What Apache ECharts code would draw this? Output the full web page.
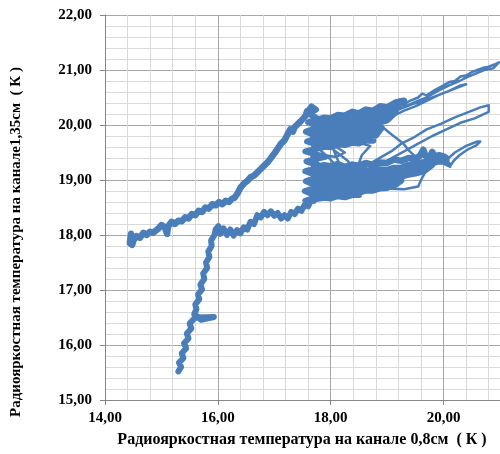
<!DOCTYPE html>
<html>
<head>
<meta charset="utf-8">
<script src="https://cdn.jsdelivr.net/npm/echarts@6/dist/echarts.min.js"></script>
<style>
  html, body { margin: 0; padding: 0; background: #fff; }
  #chart { width: 500px; height: 454px; }
</style>
</head>
<body>
<div id="chart"></div>
<script>
// Brightness temperature trajectory: channel 0.8 cm (x) vs channel 1.35 cm (y), K.
// The track is stored in pieces; the noisy branches and the dense knot are drawn
// with a heavier stroke, the loose loops of the fans with a lighter one.

// steep lower rise, from the bottom point upward (includes the short spur near 16.5)
const riseLow = [
  [15.30,15.52],[15.35,15.60],[15.31,15.68],[15.39,15.76],[15.36,15.85],[15.44,15.94],
  [15.40,16.03],[15.48,16.12],[15.45,16.21],[15.53,16.30],[15.50,16.39],[15.57,16.47],
  [15.62,16.50],[15.93,16.51],[15.70,16.46],[15.62,16.53],
  [15.58,16.56],[15.62,16.65],[15.60,16.74],[15.67,16.83],[15.65,16.92],[15.72,17.01],
  [15.69,17.10],[15.76,17.20],[15.74,17.30],[15.81,17.40],[15.79,17.50],[15.85,17.60],
  [15.83,17.70],[15.89,17.80],[15.88,17.90],[15.94,18.00],[15.96,18.10],[16.01,18.16]
];

// gentle lower branch running right into the knot
const flatLow = [
  [16.04,18.02],[16.10,18.12],[16.16,18.00],[16.22,18.10],[16.28,17.99],[16.34,18.09],
  [16.40,18.03],[16.46,18.14],[16.52,18.10],[16.58,18.24],[16.64,18.20],[16.70,18.36],
  [16.76,18.32],[16.82,18.42],[16.88,18.36],[16.94,18.43],[17.00,18.35],[17.06,18.40],
  [17.12,18.30],[17.18,18.36],[17.24,18.30],[17.30,18.42],[17.36,18.38],[17.42,18.48],
  [17.48,18.44],[17.54,18.55],[17.60,18.52],[17.66,18.65],[17.70,18.62],[17.74,18.78],
  [17.78,18.72],[17.80,18.88]
];

// upright column on the left side of the knot
const pillar = [
  [17.55,18.62],[17.78,18.70],[17.54,18.80],[17.80,18.88],[17.56,18.98],[17.82,19.06],
  [17.55,19.16],[17.86,19.24],[17.57,19.34],[17.90,19.42],[17.55,19.52],[17.88,19.60],
  [17.58,19.70],[17.80,19.78],[17.56,19.88],[17.80,19.96],[17.60,20.05],[17.76,20.12],
  [17.62,20.20],[17.74,20.28],[17.66,20.34],[17.60,20.26]
];

// dense upper part of the knot, opening into the top fan
const massUp = [
  [17.75,20.09],[17.88,20.13],[18.00,20.12],[18.12,20.18],[18.25,20.17],[18.38,20.24],
  [18.50,20.21],[18.62,20.28],[18.75,20.26],[18.88,20.34],[19.00,20.32],[19.15,20.41],[19.30,20.44],
  [19.20,20.36],[19.00,20.27],[18.88,20.25],[18.75,20.18],[18.62,20.18],[18.50,20.13],
  [18.38,20.14],[18.25,20.09],[18.12,20.09],[18.00,20.04],[17.88,20.04],[17.75,20.00],
  [17.75,19.92],[17.88,19.96],[18.00,19.95],[18.12,20.01],[18.25,20.00],[18.38,20.05],
  [18.50,20.03],[18.62,20.09],[18.75,20.08],[18.88,20.14],[19.00,20.18],[19.15,20.24],
  [19.00,20.09],[18.88,20.05],[18.75,19.99],[18.62,19.99],[18.50,19.94],[18.38,19.95],
  [18.25,19.91],[18.12,19.90],[18.00,19.87],[17.88,19.86],[17.75,19.83],
  [17.75,19.75],[17.88,19.79],[18.00,19.78],[18.12,19.83],[18.25,19.82],[18.38,19.87],
  [18.50,19.85],[18.62,19.90],[18.75,19.89],[18.90,19.95],
  [18.80,19.81],[18.65,19.80],[18.50,19.74],[18.38,19.77],[18.25,19.73],[18.12,19.72],
  [18.00,19.69],[17.88,19.69],[17.75,19.66],
  [17.75,19.58],[17.88,19.61],[18.00,19.60],[18.12,19.65],[18.25,19.64],[18.38,19.68],
  [18.50,19.67],[18.62,19.72],[18.75,19.72]
];

// dense lower part of the knot, running into the bottom fan
const massLow = [
  [17.75,19.24],[17.88,19.27],[18.00,19.25],[18.12,19.29],[18.25,19.24],[18.38,19.28],
  [18.50,19.26],[18.62,19.31],[18.75,19.27],[18.88,19.32],[19.00,19.31],[19.12,19.37],
  [19.25,19.35],[19.38,19.40],[19.50,19.39],[19.58,19.44],[19.64,19.55],[19.68,19.44],
  [19.75,19.42],[19.80,19.51],[19.84,19.43],[19.92,19.45],[20.00,19.43],[20.05,19.40],
  [20.05,19.36],[19.90,19.36],[19.75,19.33],[19.62,19.32],[19.50,19.28],[19.38,19.27],
  [19.25,19.22],[19.12,19.22],[19.00,19.18],[18.88,19.19],[18.75,19.16],[18.62,19.18],
  [18.50,19.14],[18.38,19.17],[18.25,19.14],[18.12,19.18],[18.00,19.15],[17.88,19.18],[17.75,19.15],
  [17.75,19.05],[17.88,19.08],[18.00,19.04],[18.12,19.07],[18.25,19.04],[18.38,19.08],
  [18.50,19.05],[18.62,19.09],[18.75,19.06],[18.88,19.11],[19.00,19.09],[19.12,19.14],
  [19.25,19.13],[19.38,19.19],[19.50,19.19],[19.65,19.25],[19.80,19.28],
  [19.65,19.16],[19.50,19.12],[19.38,19.10],[19.25,19.06],[19.12,19.04],[19.00,19.01],
  [18.88,18.99],[18.75,18.96],[18.62,18.98],[18.50,18.94],[18.38,18.96],[18.25,18.92],
  [18.12,18.96],[18.00,18.93],[17.88,18.96],[17.75,18.94],
  [17.75,18.84],[17.88,18.86],[18.00,18.83],[18.12,18.86],[18.25,18.83],[18.38,18.87],
  [18.50,18.86],[18.62,18.89],[18.75,18.88],[18.88,18.93],[19.00,18.92],[19.12,18.97],[19.25,18.99],
  [19.12,18.90],[19.00,18.86],[18.88,18.85],[18.75,18.81],[18.62,18.81],[18.50,18.77],
  [18.38,18.79],[18.25,18.75],[18.12,18.76],[18.00,18.72],[17.88,18.75],[17.75,18.74],
  [17.75,18.66],[17.88,18.68],[18.00,18.67],[18.12,18.71],[18.25,18.69],[18.38,18.73],[18.50,18.73]
];

// loose loops: the three fans, the cross links and the small loop under the bottom fan
const loops = [
  [17.70,18.95],[17.85,19.00],[18.10,18.95],[18.40,19.00],[18.70,19.08],[19.00,19.12],
  [19.30,19.20],[19.55,19.28],[19.80,19.36],[20.05,19.36],
  [20.20,19.50],[20.40,19.62],[20.60,19.70],[20.65,19.70],[20.58,19.63],[20.42,19.55],
  [20.28,19.45],[20.18,19.35],[20.12,19.26],
  [19.95,19.32],[20.12,19.24],[20.10,19.31],[19.90,19.30],
  [19.70,19.24],[19.50,19.18],[19.30,19.12],[19.10,19.06],[18.90,19.02],[18.70,18.96],
  [18.50,18.90],[18.30,18.88],[18.10,18.84],[17.90,18.82],[17.70,18.80],
  [17.66,19.40],[17.70,19.95],
  [17.85,19.85],[18.00,19.92],[18.20,20.00],[18.40,20.08],[18.55,20.12],[18.70,20.20],
  [18.85,20.25],[18.95,20.36],[19.02,20.28],[19.15,20.38],[19.22,20.46],[19.28,20.36],
  [19.40,20.44],[19.55,20.50],[19.62,20.57],[19.70,20.54],[19.85,20.64],[20.00,20.72],
  [20.10,20.78],[20.20,20.80],[20.30,20.88],[20.40,20.90],[20.50,20.96],[20.60,21.00],
  [20.70,21.04],[20.80,21.06],[20.90,21.10],[20.98,21.14],
  [20.88,21.03],[20.72,21.00],[20.58,20.94],[20.44,20.88],[20.28,20.80],[20.10,20.72],
  [19.90,20.62],[19.70,20.50],[19.50,20.42],[19.30,20.33],[19.10,20.24],[18.90,20.14],
  [18.70,20.04],[18.50,19.94],[18.30,19.84],[18.10,19.74],[17.90,19.66],[17.75,19.60],
  [17.95,19.42],[18.15,19.20],[18.30,19.05],
  [18.50,19.18],[18.70,19.30],[18.90,19.42],[19.10,19.54],[19.25,19.66],[19.45,19.76],
  [19.70,19.92],[19.95,20.02],[20.20,20.14],[20.45,20.24],[20.65,20.32],[20.80,20.36],
  [20.80,20.24],
  [20.55,20.12],[20.30,20.04],[20.05,19.92],[19.80,19.80],[19.55,19.66],[19.30,19.52],
  [19.05,19.38],[18.80,19.24],[18.55,19.12],[18.35,19.05],
  [18.15,19.30],[18.05,19.55],[18.30,19.35],[18.45,19.15],[18.55,19.45],[18.70,19.62],
  [18.40,19.70],[18.20,19.62],[18.00,19.70],
  [18.20,19.82],[18.45,19.92],[18.70,20.00],[18.90,20.06],[19.10,20.16],[19.30,20.26],
  [19.50,20.34],[19.70,20.44],[19.90,20.54],[20.10,20.62],[20.30,20.72],[20.40,20.74],
  [20.20,20.66],[19.95,20.56],[19.70,20.46],[19.45,20.38],[19.20,20.28],[18.95,20.20],
  [18.82,20.05],
  [19.05,19.85],[19.28,19.67],[19.40,19.52],[19.55,19.38],
  [19.35,19.28],[19.15,19.18],[18.95,19.10],[19.10,19.00],[19.30,19.08],[19.50,19.14],
  [19.65,19.20],[19.75,19.28],
  [19.60,19.00],[19.55,18.88],[19.30,18.83],[19.05,18.84],[18.80,18.90],[18.55,18.96],
  [18.35,18.94],[18.15,18.90],[17.95,18.95],[17.75,18.92],[17.65,18.78],[17.80,18.70],
  [18.00,18.78],[18.20,18.82],
  [18.40,18.98],[18.60,19.05],[18.80,19.02],[18.60,18.95],[18.40,18.88],[18.20,18.96],
  [18.00,19.10],[17.85,19.20],[17.75,19.35],
  [17.90,19.45],[18.10,19.42],[18.25,19.50],[18.10,19.60],[17.95,19.58],[17.80,19.70],
  [17.72,19.85],[17.85,19.95],[17.75,20.05],[17.68,20.15],
  [17.62,20.22],[17.72,20.26],[17.66,20.32],[17.58,20.25]
];

// upper branch, from the peak near 17.7 K down to the left end
const branchHigh = [
  [17.58,20.25],[17.55,20.16],[17.48,20.08],[17.42,20.02],[17.36,19.96],[17.33,19.88],[17.28,19.92],
  [17.22,19.80],[17.18,19.72],[17.12,19.66],[17.06,19.57],[17.00,19.48],[16.94,19.40],
  [16.88,19.32],[16.82,19.26],[16.76,19.20],[16.70,19.14],[16.64,19.08],[16.58,19.05],
  [16.52,18.98],[16.46,18.93],[16.40,18.86],[16.35,18.76],[16.30,18.68],[16.25,18.66],
  [16.20,18.60],[16.14,18.62],[16.08,18.56],[16.02,18.60],[15.96,18.54],[15.90,18.56],
  [15.84,18.48],[15.78,18.50],[15.72,18.42],[15.66,18.44],[15.60,18.36],[15.54,18.38],
  [15.48,18.30],[15.42,18.32],[15.36,18.25],[15.30,18.26],[15.24,18.20],[15.18,18.24],
  [15.12,18.16],[15.10,18.02],[15.06,18.14],[15.00,18.18],[14.95,18.12],[14.90,18.08],
  [14.85,18.04],[14.80,18.06],[14.74,18.00],[14.68,18.04],[14.62,17.95],[14.56,17.98],
  [14.50,17.90],[14.46,18.02],[14.44,17.85],[14.48,17.82],[14.52,17.95]
];

const xTitle = 'Радиояркостная температура на канале 0,8см  ( К )';
const yTitle = 'Радиояркостная температура на канале1,35см  ( К )';

const serif = '"Liberation Serif", "Times New Roman", serif';
const fmt = v => v.toFixed(2).replace('.', ',');
const blue = '#4a7ebb';

function trace(data, width) {
  return {
    type: 'line', xAxisIndex: 1, yAxisIndex: 1, data: data,
    showSymbol: false, symbol: 'none', silent: true, z: 5,
    lineStyle: { color: blue, width: width, join: 'round', cap: 'round' }
  };
}

const chart = echarts.init(document.getElementById('chart'), null, { renderer: 'canvas' });
chart.setOption({
  animation: false,
  backgroundColor: '#ffffff',
  grid: { left: 105, right: 0, top: 15, bottom: 54 },
  xAxis: [
    { // fine grid
      type: 'value', min: 14, max: 21, interval: 0.4, position: 'top',
      axisLine: { show: false }, axisTick: { show: false }, axisLabel: { show: false },
      splitLine: { show: true, lineStyle: { color: '#d9d9d9', width: 1 } }
    },
    { // main grid with labels
      type: 'value', min: 14, max: 21, interval: 2, position: 'bottom',
      axisLine: { show: true, lineStyle: { color: '#868686', width: 1 } },
      axisTick: { show: true, inside: false, length: 5, lineStyle: { color: '#868686' } },
      axisLabel: { show: true, showMaxLabel: false, margin: 11, formatter: fmt,
        fontFamily: serif, fontWeight: 'bold', fontSize: 15, color: '#000' },
      splitLine: { show: true, lineStyle: { color: '#a6a6a6', width: 1 } }
    }
  ],
  yAxis: [
    {
      type: 'value', min: 15, max: 22, interval: 0.2, position: 'right',
      axisLine: { show: false }, axisTick: { show: false }, axisLabel: { show: false },
      splitLine: { show: true, lineStyle: { color: '#d9d9d9', width: 1 } }
    },
    {
      type: 'value', min: 15, max: 22, interval: 1, position: 'left',
      axisLine: { show: true, lineStyle: { color: '#868686', width: 1 } },
      axisTick: { show: true, inside: false, length: 5, lineStyle: { color: '#868686' } },
      axisLabel: { show: true, margin: 13, formatter: fmt,
        fontFamily: serif, fontWeight: 'bold', fontSize: 15, color: '#000' },
      splitLine: { show: true, lineStyle: { color: '#a6a6a6', width: 1 } }
    }
  ],
  graphic: [
    { type: 'text', x: 302, y: 440,
      style: { text: xTitle, font: 'bold 16px ' + serif, fill: '#000',
        align: 'center', verticalAlign: 'middle' } },
    { type: 'text', x: 16, y: 242, rotation: Math.PI / 2,
      style: { text: yTitle, font: 'bold 15px ' + serif, fill: '#000',
        align: 'center', verticalAlign: 'middle' } }
  ],
  series: [
    trace(riseLow.concat(flatLow), 6),
    trace(branchHigh, 6.5),
    trace(pillar, 6),
    trace(massUp, 6.5),
    trace(massLow, 6.5),
    trace(loops, 2.5)
  ]
});
</script>
</body>
</html>
